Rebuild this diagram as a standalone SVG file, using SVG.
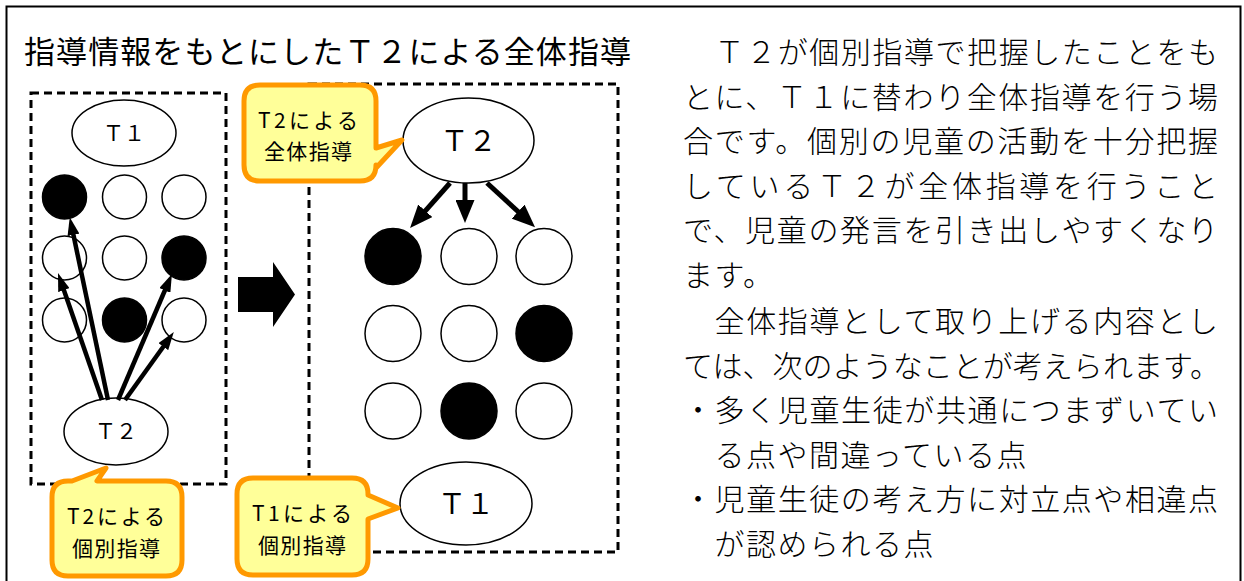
<svg xmlns="http://www.w3.org/2000/svg" width="1244" height="581" viewBox="0 0 1244 581">
<style>
.jp{font-family:"Noto Sans CJK JP","Noto Sans CJK SC",sans-serif;fill:#000}
.body{font-size:30px;font-weight:300}
.lbl{font-size:21px;text-anchor:middle}
.dash{fill:none;stroke:#000;stroke-width:3;stroke-dasharray:8 5}
.cw{fill:#fff;stroke:#000;stroke-width:1.5}
.cb{fill:#000;stroke:#000;stroke-width:1.5}
.ell{fill:#fff;stroke:#000;stroke-width:1.5}
.call{fill:#FFFF99;stroke:#FF9900;stroke-width:5;stroke-linejoin:round}
.al{stroke:#000;stroke-width:4.5;fill:none}
.ar{stroke:#000;stroke-width:5;fill:none}
</style>
<defs>
<marker id="hs" markerUnits="userSpaceOnUse" markerWidth="18" markerHeight="12" refX="7" refY="6" orient="auto" viewBox="0 0 18 12"><path d="M0,0 L18,6 L0,12 z" fill="#000"/></marker>
<marker id="hl" markerUnits="userSpaceOnUse" markerWidth="23" markerHeight="19" refX="8" refY="9.5" orient="auto" viewBox="0 0 23 19"><path d="M0,0 L23,9.5 L0,19 z" fill="#000"/></marker>
</defs>
<rect width="1244" height="581" fill="#fff"/>
<path d="M6.5,581 V6.5 H1240.5 V581" fill="none" stroke="#000" stroke-width="2"/>
<text id="title" class="jp" x="24" y="63" font-size="31" textLength="607" lengthAdjust="spacing">指導情報をもとにしたＴ２による全体指導</text>

<g id="left-panel">
<rect class="dash" x="31" y="93" width="195" height="391"/>
<g id="l-t1"><ellipse class="ell" cx="124" cy="133" rx="52" ry="33"/><text class="jp" x="124" y="141" font-size="21" text-anchor="middle">Ｔ１</text></g>
<g id="l-students">
<circle class="cb" cx="64.5" cy="197" r="22"/><circle class="cw" cx="124.5" cy="197" r="22"/><circle class="cw" cx="184" cy="197" r="22"/>
<circle class="cw" cx="64.5" cy="258" r="22"/><circle class="cw" cx="124.5" cy="258" r="22"/><circle class="cb" cx="184" cy="258" r="22"/>
<circle class="cw" cx="64.5" cy="320" r="22"/><circle class="cb" cx="124.5" cy="320" r="22"/><circle class="cw" cx="184" cy="320" r="22"/>
</g>
<g id="l-t2"><ellipse class="ell" cx="116" cy="431.5" rx="52" ry="33.5"/><text class="jp" x="116" y="439" font-size="21" text-anchor="middle">Ｔ２</text></g>
</g>

<g id="connectors">
<line class="al" x1="108" y1="400" x2="72" y2="228" marker-end="url(#hs)"/>
<line class="al" x1="102" y1="400" x2="61.6" y2="283.5" marker-end="url(#hs)"/>
<line class="al" x1="118" y1="400" x2="167.6" y2="284" marker-end="url(#hs)"/>
<line class="al" x1="125" y1="400" x2="167.4" y2="341" marker-end="url(#hs)"/>
<line class="ar" x1="450" y1="183" x2="420" y2="216.8" marker-end="url(#hl)"/>
<line class="ar" x1="465" y1="183" x2="465" y2="208" marker-end="url(#hl)"/>
<line class="ar" x1="487" y1="183" x2="524" y2="217" marker-end="url(#hl)"/>
<polygon id="shift-arrow" points="238,277 273,277 273,262 295,294.5 273,327 273,312 238,312" fill="#000"/>
</g>

<g id="right-panel">
<rect class="dash" x="309" y="84" width="309" height="468"/>
<g id="r-t2"><ellipse class="ell" cx="468.5" cy="140.5" rx="65.5" ry="42.5"/><text class="jp" x="468.5" y="150.5" font-size="28" text-anchor="middle">Ｔ２</text></g>
<g id="r-students">
<circle class="cb" cx="393" cy="256.5" r="28"/><circle class="cw" cx="469" cy="256.5" r="28"/><circle class="cw" cx="544" cy="256.5" r="28"/>
<circle class="cw" cx="393" cy="333.5" r="28"/><circle class="cw" cx="469" cy="333.5" r="28"/><circle class="cb" cx="544" cy="333.5" r="28"/>
<circle class="cw" cx="393" cy="411" r="28"/><circle class="cb" cx="469" cy="411" r="28"/><circle class="cw" cx="544" cy="411" r="28"/>
</g>
<g id="r-t1"><ellipse class="ell" cx="466" cy="503.5" rx="66" ry="41.5"/><text class="jp" x="466" y="513.5" font-size="28" text-anchor="middle">Ｔ１</text></g>
</g>

<g id="callout-t2-whole">
<path class="call" d="M260,85 H360 Q376,85 376,101 V148 L402,140 L376,168 V165 Q376,181 360,181 H260 Q244,181 244,165 V101 Q244,85 260,85 Z"/>
<text class="jp lbl" x="308" y="128" textLength="100" lengthAdjust="spacing">T2による</text>
<text class="jp lbl" x="308" y="159" textLength="88" lengthAdjust="spacing">全体指導</text>
</g>
<g id="callout-t2-indiv">
<path class="call" d="M68,481 H72 L106,468 L97,481 H166 Q182,481 182,497 V560 Q182,576 166,576 H68 Q52,576 52,560 V497 Q52,481 68,481 Z"/>
<text class="jp lbl" x="116" y="524" textLength="98" lengthAdjust="spacing">T2による</text>
<text class="jp lbl" x="116" y="556" textLength="88" lengthAdjust="spacing">個別指導</text>
</g>
<g id="callout-t1-indiv">
<path class="call" d="M253,478 H352 Q368,478 368,494 V495 L398,508 L368,519 V559 Q368,575 352,575 H253 Q237,575 237,559 V494 Q237,478 253,478 Z"/>
<text class="jp lbl" x="302" y="521" textLength="100" lengthAdjust="spacing">T1による</text>
<text class="jp lbl" x="302" y="553" textLength="88" lengthAdjust="spacing">個別指導</text>
</g>

<g id="description" class="jp body">
<text x="683" y="63" textLength="535" lengthAdjust="spacing">　Ｔ２が個別指導で把握したことをも</text>
<text x="683" y="108" textLength="535" lengthAdjust="spacing">とに、Ｔ１に替わり全体指導を行う場</text>
<text x="683" y="152" textLength="535" lengthAdjust="spacing">合です。個別の児童の活動を十分把握</text>
<text x="683" y="197" textLength="535" lengthAdjust="spacing">しているＴ２が全体指導を行うこと</text>
<text x="683" y="241" textLength="535" lengthAdjust="spacing">で、児童の発言を引き出しやすくなり</text>
<text x="683" y="286" letter-spacing="1.5">ます。</text>
<text x="683" y="332" textLength="535" lengthAdjust="spacing">　全体指導として取り上げる内容とし</text>
<text x="683" y="377" textLength="537" lengthAdjust="spacing">ては、次のようなことが考えられます。</text>
<text x="683" y="421" textLength="535" lengthAdjust="spacing">・多く児童生徒が共通につまずいてい</text>
<text x="683" y="466" letter-spacing="1.5">　る点や間違っている点</text>
<text x="683" y="510" textLength="535" lengthAdjust="spacing">・児童生徒の考え方に対立点や相違点</text>
<text x="683" y="555" letter-spacing="1.5">　が認められる点</text>
</g>
</svg>
